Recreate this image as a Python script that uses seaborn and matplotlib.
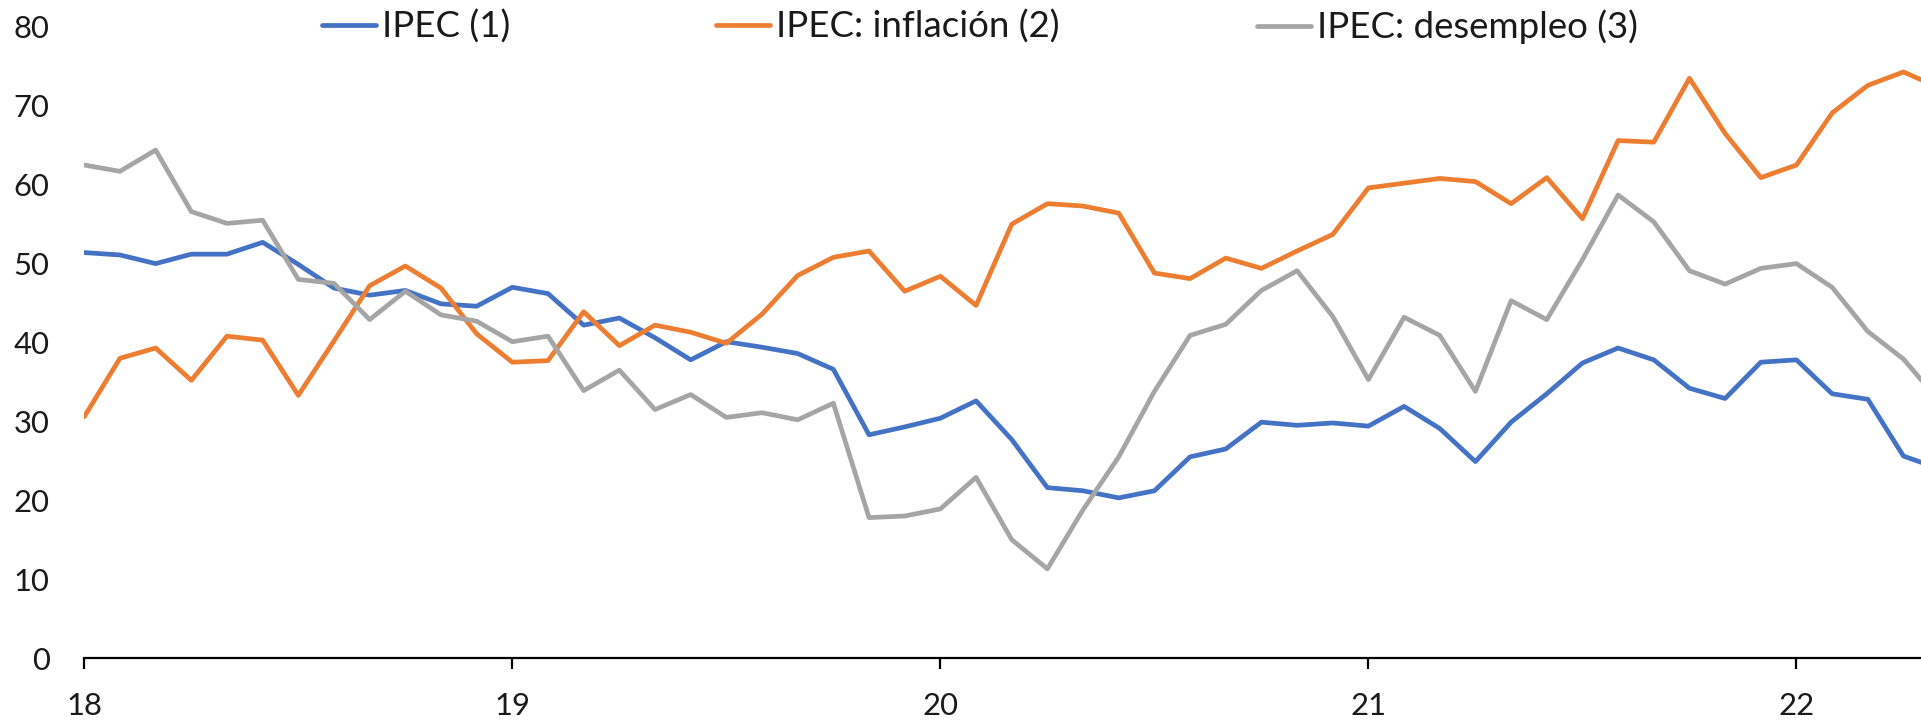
import matplotlib
matplotlib.use("Agg")
import matplotlib.pyplot as plt
import seaborn as sns
import pandas as pd
import numpy as np
from matplotlib.lines import Line2D

# ---- data (monthly, starting Jan-2018) ----
ipec = [51.4, 51.1, 50.0, 51.2, 51.2, 52.7, 49.9, 46.9, 46.0, 46.6, 44.9, 44.6,
        47.0, 46.2, 42.2, 43.1, 40.6, 37.8, 40.1, 39.4, 38.6, 36.6, 28.3, 29.3,
        30.4, 32.6, 27.7, 21.6, 21.2, 20.3, 21.2, 25.5, 26.5, 29.9, 29.5, 29.8,
        29.4, 31.9, 29.1, 24.9, 29.9, 33.5, 37.4, 39.3, 37.8, 34.2, 32.9, 37.5,
        37.8, 33.5, 32.8, 25.6, 24.0]
inflacion = [30.6, 38.0, 39.3, 35.2, 40.8, 40.3, 33.3, 40.2, 47.2, 49.7, 46.9, 41.1,
             37.5, 37.7, 43.9, 39.6, 42.2, 41.3, 39.9, 43.6, 48.5, 50.8, 51.6, 46.5,
             48.4, 44.7, 55.0, 57.6, 57.3, 56.4, 48.8, 48.1, 50.7, 49.4, 51.6, 53.7,
             59.6, 60.2, 60.8, 60.4, 57.6, 60.9, 55.7, 65.6, 65.4, 73.5, 66.5, 60.9,
             62.5, 69.1, 72.6, 74.3, 72.3]
desempleo = [62.5, 61.7, 64.4, 56.6, 55.1, 55.5, 48.0, 47.5, 42.9, 46.5, 43.5, 42.7,
             40.1, 40.8, 33.9, 36.5, 31.5, 33.4, 30.5, 31.1, 30.2, 32.3, 17.8, 18.0,
             18.9, 22.9, 15.0, 11.3, 18.8, 25.5, 33.8, 40.9, 42.3, 46.6, 49.1, 43.3,
             35.3, 43.2, 40.9, 33.8, 45.3, 42.9, 50.5, 58.7, 55.3, 49.1, 47.4, 49.4,
             50.0, 47.0, 41.4, 37.9, 32.6]
series_names = ["IPEC (1)", "IPEC: inflación (2)", "IPEC: desempleo (3)"]
colors = ["#4472C4", "#ED7D31", "#A5A5A5"]
year_labels = ["18", "19", "20", "21", "22"]
y_ticks = [0, 10, 20, 30, 40, 50, 60, 70, 80]

n = len(ipec)
df = pd.DataFrame({
    "mes": np.tile(np.arange(n), 3),
    "valor": ipec + inflacion + desempleo,
    "serie": np.repeat(series_names, n),
})

sns.set_style("white")
FONT = ["Lato", "DejaVu Sans"]
plt.rcParams["font.family"] = FONT

W, H = 1921, 721
fig = plt.figure(figsize=(W / 100, H / 100), dpi=100)
renderer = fig.canvas.get_renderer()


def fit_size(text, target_px, base=20):
    t = fig.text(0, 0, text, fontsize=base)
    w = t.get_window_extent(renderer).width
    t.remove()
    return base * target_px / w


tick_fs = fit_size("80", 36)
leg_fs = fit_size("IPEC: desempleo (3)", 321)

x0_px, y_axis_px, y_top_px = 84.3, 658, 27
ax = fig.add_axes([x0_px / W, 1 - y_axis_px / H, 1 - x0_px / W,
                   (y_axis_px - y_top_px) / H])

sns.lineplot(data=df, x="mes", y="valor", hue="serie", palette=colors,
             hue_order=series_names, linewidth=3.4, ax=ax, legend=False)

month_px = 35.67
ax.set_xlim(0, (W - x0_px) / month_px)
ax.set_ylim(0, 80)
ax.set_xticks([12 * i for i in range(len(year_labels))])
ax.set_xticklabels(year_labels)
ax.set_yticks(y_ticks)
ax.set_xlabel("")
ax.set_ylabel("")
for s in ["top", "right", "left"]:
    ax.spines[s].set_visible(False)
ax.spines["bottom"].set_linewidth(1.6)
ax.spines["bottom"].set_color("black")
ax.tick_params(axis="x", direction="out", length=7.7, width=1.6, color="black",
               labelsize=tick_fs, pad=17, bottom=True)
ax.tick_params(axis="y", length=0, labelsize=tick_fs, pad=25, left=False)
for lab in ax.get_xticklabels() + ax.get_yticklabels():
    lab.set_color("#1a1a1a")

# legend entries, positioned as in the reference (line start x in px)
fs_px = leg_fs * 100 / 72
line_starts = [322, 716, 1257]
for name, col, xs in zip(series_names, colors, line_starts):
    leg = fig.legend([Line2D([], [], color=col, lw=3.4)], [name],
                     loc="center left", bbox_to_anchor=(xs / W, 1 - 27 / H),
                     frameon=False, fontsize=leg_fs,
                     handlelength=54 / fs_px, handletextpad=6 / fs_px,
                     borderpad=0, borderaxespad=0)
    for t in leg.get_texts():
        t.set_color("#1a1a1a")

fig.savefig("out.png", dpi=100)
